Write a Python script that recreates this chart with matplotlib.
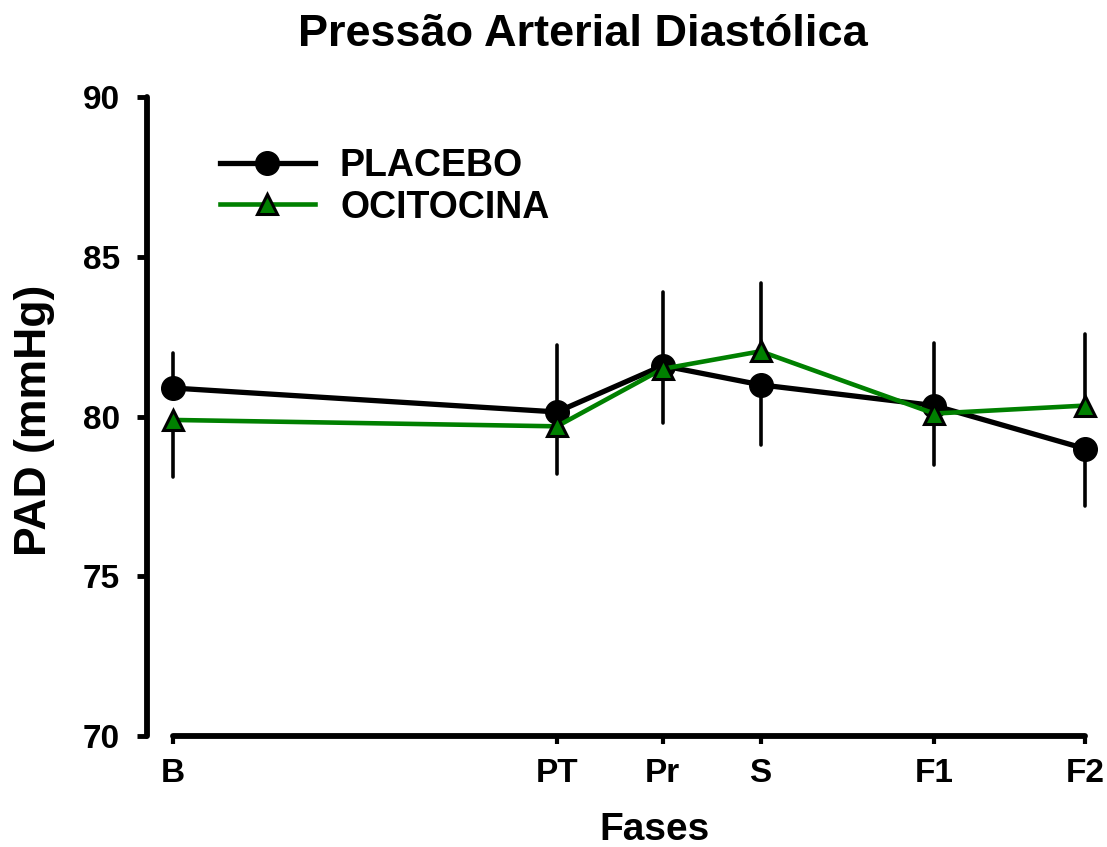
import matplotlib
matplotlib.use("Agg")
import matplotlib.pyplot as plt

plt.rcParams['font.family'] = ['Liberation Sans', 'DejaVu Sans']
plt.rcParams['font.weight'] = 'bold'

# ---- data ----
phases = ["B", "PT", "Pr", "S", "F1", "F2"]
phase_time = [0, 40, 51, 61.2, 79.3, 95]
placebo = [80.9, 80.15, 81.6, 81.0, 80.35, 79.0]
placebo_sem = [1.1, 2.1, 2.3, 1.9, 1.95, 1.8]
ocitocina = [79.9, 79.7, 81.5, 82.05, 80.1, 80.35]
ocitocina_sem = [1.8, 1.5, 1.7, 2.15, 1.6, 2.25]
yticks = [70, 75, 80, 85, 90]

W, H = 1107, 847
fig = plt.figure(figsize=(W / 100, H / 100), dpi=100)
left = 146.5 / W
right = 1085 / W
bottom = 1 - 736 / H
top = 1 - 97.5 / H
ax = fig.add_axes([left, bottom, right - left, top - bottom])

ax.set_xlim(-2.76, 95)
ax.set_ylim(70, 90)

green = '#008000'

# error bars: upward for the higher series, downward for the lower one
for t, p, ps, o, os_ in zip(phase_time, placebo, placebo_sem, ocitocina, ocitocina_sem):
    if p >= o:
        segs = [([p, p + ps]), ([o, o - os_])]
    else:
        segs = [([o, o + os_]), ([p, p - ps])]
    for yy in segs:
        ax.plot([t, t], yy, color='black', lw=2.6, zorder=2, clip_on=False,
                solid_capstyle='round')

ax.plot(phase_time, placebo, color='black', lw=3.8, marker='o', markersize=17,
        markerfacecolor='black', markeredgecolor='black', zorder=3, clip_on=False,
        label='PLACEBO')
ax.plot(phase_time, ocitocina, color=green, lw=3.3, marker='^', markersize=14,
        markerfacecolor=green, markeredgecolor='black', markeredgewidth=2.2,
        zorder=4, clip_on=False, label='OCITOCINA')

# spines
for s in ['top', 'right']:
    ax.spines[s].set_visible(False)
ax.spines['left'].set_linewidth(4.2)
ax.spines['bottom'].set_linewidth(4.2)
ax.spines['left'].set_bounds(70, 90)
ax.spines['bottom'].set_bounds(0, 95)
ax.spines['left'].set_capstyle('round')
ax.spines['bottom'].set_capstyle('round')

ax.set_yticks(yticks)
ax.set_yticklabels([str(v) for v in yticks])
ax.set_xticks(phase_time)
ax.set_xticklabels(phases)
ax.tick_params(axis='y', direction='out', length=7, width=3.5, pad=12, labelsize=24)
ax.tick_params(axis='x', direction='out', length=6, width=3, pad=10, labelsize=24)
for lab in ax.get_xticklabels() + ax.get_yticklabels():
    lab.set_fontweight('bold')

ax.set_ylabel('PAD (mmHg)', fontsize=32, fontweight='bold')
ax.yaxis.set_label_coords(35 / W, 1 - 420 / H, transform=fig.transFigure)
ax.set_xlabel('Fases', fontsize=28, fontweight='bold')
ax.xaxis.set_label_coords(654 / W, 1 - 830 / H, transform=fig.transFigure)
ax.xaxis.label.set_va('center')
ax.yaxis.label.set_va('center')

fig.text(583 / W, 1 - 35 / H, 'Pressão Arterial Diastólica', ha='center', va='center',
         fontsize=32.5, fontweight='bold')

leg = ax.legend(loc='upper left', bbox_to_anchor=(220 / W, 1 - 148 / H),
                bbox_transform=fig.transFigure, frameon=False,
                handlelength=2.53, handletextpad=0.67, labelspacing=0.15,
                borderaxespad=0, borderpad=0, prop={'weight': 'bold', 'size': 27})

fig.savefig('out.png', dpi=100)
